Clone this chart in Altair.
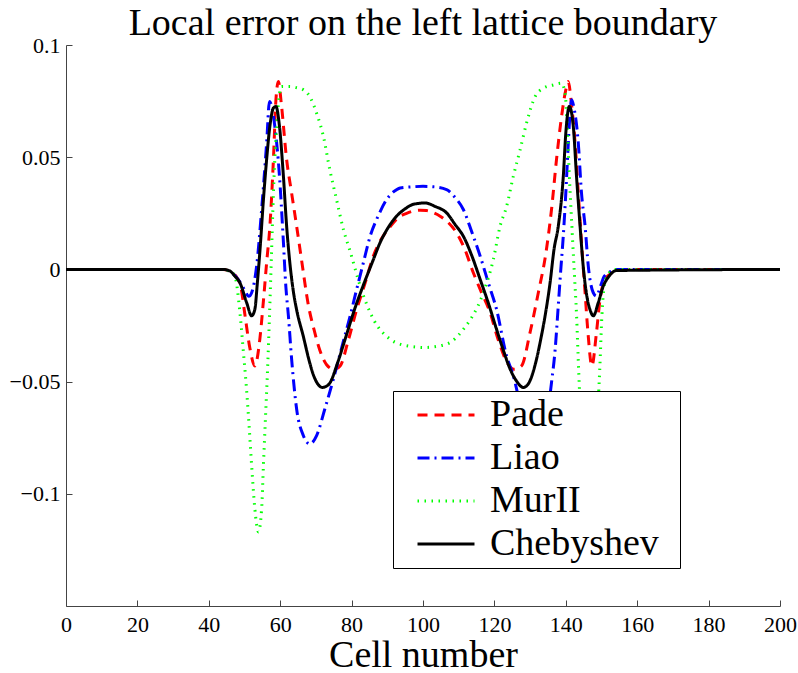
import altair as alt
import pandas as pd

# ---- data ----
pade_x = [0, 44, 46, 48, 49, 50.1, 51.5, 52.9, 54.3, 55.3, 56.2, 57.1, 58.1, 58.8, 59.5, 60.3, 61.8, 63.2, 64.6, 66,
          67.9, 69.5, 71.1, 73, 75, 76.8, 79, 81.4, 84, 86.1, 88.5, 90.8, 93, 95.4, 99.2, 101, 102.5, 104.8, 107, 109.4,
          111.7, 114.1, 116.3, 118.8, 121, 123.4, 125.5, 127.6, 130, 132.3, 134.4, 136, 137.4, 138.8, 140, 140.7, 141.5,
          142.6, 143.5, 144.4, 145.4, 146.2, 147.3, 148.6, 149.6, 150.8, 152.5, 154.5, 200]
pade_y = [0, 0, -0.001, -0.004, -0.008, -0.020, -0.035, -0.043, -0.031, -0.014, 0.003, 0.019, 0.049, 0.0756, 0.0837,
          0.074, 0.049, 0.034, 0.0193, 0.004, -0.016, -0.027, -0.036, -0.0425, -0.0445, -0.043, -0.032, -0.018, -0.005,
          0.006, 0.014, 0.019, 0.023, 0.025, 0.0264, 0.0262, 0.0255, 0.0237, 0.021, 0.0163, 0.009, -0.0015, -0.010,
          -0.0193, -0.031, -0.041, -0.0445, -0.043, -0.028, -0.0104, 0.007, 0.0267, 0.049, 0.068, 0.080, 0.0837, 0.075,
          0.0563, 0.034, 0.0119, -0.0104, -0.028, -0.043, -0.028, -0.0133, -0.005, -0.002, 0, 0]

liao_x = [0, 44, 46, 48, 50, 51.2, 52.0, 53.4, 54.8, 56.2, 57.0, 57.7, 58.5, 59.8, 60.8, 61.6, 62.3, 63.2, 64.6, 66.5,
          68.3, 70.2, 72.5, 74.9, 77.7, 79.6, 81.4, 83.3, 85.2, 87.5, 89.8, 91.7, 93.6, 97, 100, 103, 106.6, 109, 111.3,
          113.6, 116, 118.3, 120.6, 123.4, 125.3, 127.5, 129.8, 131.7, 133.5, 135, 136, 137, 137.9, 138.6, 139.3, 140,
          140.7, 141.2, 141.6, 142.3, 143.5, 144.4, 145.4, 146.3, 147.7, 148.6, 149.6, 150.8, 152.5, 154, 200]
liao_y = [0, 0, -0.001, -0.004, -0.009, -0.012, -0.0104, 0.0015, 0.0267, 0.0563, 0.0748, 0.072, 0.0637, 0.0415, 0.015,
          -0.008, -0.0207, -0.040, -0.0622, -0.0741, -0.0778, -0.0741, -0.0622, -0.0489, -0.032, -0.0207, -0.009, 0.003,
          0.0148, 0.024, 0.0311, 0.0345, 0.0363, 0.0368, 0.037, 0.0368, 0.0356, 0.032, 0.0267, 0.017, 0.006, -0.006,
          -0.0178, -0.0385, -0.0474, -0.062, -0.0741, -0.0778, -0.0741, -0.063, -0.0504, -0.036, -0.016, 0.000, 0.015,
          0.034, 0.0563, 0.070, 0.0756, 0.072, 0.0563, 0.034, 0.0193, 0.0015, -0.0104, -0.0119, -0.008, -0.003, -0.001,
          0, 0]

mur_x = [0, 44, 46, 47.3, 48.7, 49.7, 50.5, 51.1, 52.0, 52.9, 53.9, 54.8, 55.3, 55.9, 56.5, 57.0, 57.6, 58.1, 59.0, 60.4,
         62.7, 64.5, 66.5, 68.3, 70.2, 72.1, 73.9, 75.8, 77.7, 79.6, 82.4, 86.1, 90.8, 95.4, 100.5, 106.6, 111.3, 116.9,
         119.7, 121.6, 123.4, 125.3, 127.2, 129, 131.4, 133.7, 136.5, 138.8, 139.8, 140.4, 141, 141.7, 142.4, 143, 143.6,
         144.3, 145, 145.8, 146.7, 147.6, 148.3, 148.9, 149.5, 150.1, 150.9, 152.5, 154, 200]
mur_y = [0, 0, -0.001, -0.003, -0.019, -0.037, -0.052, -0.0652, -0.0874, -0.1067, -0.117, -0.1067, -0.0874, -0.0652,
         -0.043, -0.0207, 0.0089, 0.034, 0.0637, 0.0815, 0.0815, 0.081, 0.080, 0.077, 0.0696, 0.0593, 0.0444, 0.031,
         0.0178, 0.0080, -0.0074, -0.0222, -0.0311, -0.034, -0.0348, -0.0333, -0.0267, -0.0104, 0.0044, 0.0193, 0.028,
         0.0415, 0.0533, 0.0652, 0.077, 0.0807, 0.0822, 0.083, 0.0785, 0.0637, 0.0415, 0.0193, -0.002, -0.020, -0.045,
         -0.070, -0.090, -0.107, -0.117, -0.107, -0.088, -0.065, -0.045, -0.021, -0.006, -0.001, 0, 0]

cheb_x = [0, 44, 45.9, 47.3, 48.7, 50.6, 52.0, 52.9, 53.6, 54.4, 55.3, 56.2, 57.1, 58.1, 58.8, 59.8, 60.9, 61.8, 62.7,
          63.7, 64.6, 66.5, 68, 69.3, 70.5, 71.8, 73, 74, 76, 78.6, 81, 83.3, 86, 88, 90, 92.6, 95, 97.3, 100.5, 103.5,
          106.6, 109, 111.3, 113.7, 116, 118.3, 120.6, 122.5, 124.4, 126.3, 128.1, 129.5, 131.8, 133, 134.2, 135.6,
          136.7, 137.9, 139.3, 140, 141, 142.1, 143, 144, 144.9, 145.8, 146.8, 147.7, 149.1, 150.5, 151.9, 154.2, 200]
cheb_y = [0, 0, -0.0007, -0.003, -0.0059, -0.0148, -0.0207, -0.0178, -0.006, 0.010, 0.031, 0.049, 0.0637, 0.0719,
          0.0726, 0.0637, 0.0415, 0.0193, 0.003, -0.010, -0.018, -0.030, -0.040, -0.047, -0.051, -0.0526, -0.052,
          -0.0504, -0.042, -0.029, -0.017, -0.007, 0.004, 0.012, 0.018, 0.0237, 0.027, 0.029, 0.0296, 0.028, 0.0252,
          0.020, 0.0148, 0.006, -0.0044, -0.015, -0.0267, -0.036, -0.0444, -0.050, -0.0526, -0.051, -0.040, -0.031,
          -0.0207, -0.0059, 0.0089, 0.0193, 0.0415, 0.0607, 0.0726, 0.0637, 0.0415, 0.0193, 0.001, -0.011, -0.018,
          -0.0207, -0.0148, -0.0074, -0.0035, -0.0005, 0]

series_names = ["Pade", "Liao", "MurII", "Chebyshev"]
x_ticks = [0, 20, 40, 60, 80, 100, 120, 140, 160, 180, 200]
y_ticks = [-0.1, -0.05, 0, 0.05, 0.1]

# ---- styles ----
series_colors = ["#ff0000", "#0000ff", "#00ff00", "#000000"]
series_dashes = [[10, 7], [12, 5, 2, 5], [1.5, 5.5], [1, 0]]
series_widths = [3, 3, 1.8, 3]

frames = []
for name, xs, ys in zip(series_names, [pade_x, liao_x, mur_x, cheb_x], [pade_y, liao_y, mur_y, cheb_y]):
    assert len(xs) == len(ys), name
    frames.append(pd.DataFrame({"series": name, "cell": xs, "error": ys}))
df = pd.concat(frames, ignore_index=True)

FONT = "Liberation Serif"
W, H = 714, 561

x_scale = alt.Scale(domain=[0, 200], nice=False, zero=False)
y_scale = alt.Scale(domain=[-0.15, 0.1], nice=False, zero=False)
color_scale = alt.Scale(domain=series_names, range=series_colors)
dash_scale = alt.Scale(domain=series_names, range=series_dashes)
width_scale = alt.Scale(domain=series_names, range=series_widths)

# an invisible-width title on the right adds the box's right margin
legend = alt.Legend(
    title="\u00a0", titleOrient="right", titleFontSize=38, titleFont=FONT, titlePadding=16,
    orient="none", legendX=327, legendY=346,
    symbolType="M-2,0H2", symbolSize=812,
    labelFont=FONT, labelFontSize=38, labelColor="black", labelLimit=0,
    fillColor="white", strokeColor="black",
    padding=5, rowPadding=5, symbolOffset=29, labelOffset=25,
)

x_axis = alt.Axis(
    values=x_ticks, format="d", title="Cell number",
    titleFont=FONT, titleFontSize=38, titleFontWeight="normal", titleColor="black",
    titleY=30, titleBaseline="top",
    labelFont=FONT, labelFontSize=22, labelColor="black", labelPadding=8,
    labelFlush=False, labelOverlap=False,
    tickSize=0, domainColor="#444", domainWidth=1, grid=False,
)
y_axis = alt.Axis(
    values=y_ticks, format="~g", title=None,
    labelFont=FONT, labelFontSize=22, labelColor="black", labelPadding=6,
    labelFlush=False, labelOverlap=False,
    tickSize=0, domainColor="#444", domainWidth=1, grid=False,
)

line_layers = []
for name in series_names:
    line_layers.append(
        alt.Chart(df)
        .transform_filter(alt.datum.series == name)
        .mark_line(interpolate="monotone", strokeCap="butt", clip=True)
        .encode(
            x=alt.X("cell:Q", scale=x_scale, axis=x_axis),
            y=alt.Y("error:Q", scale=y_scale, axis=y_axis),
            color=alt.Color("series:N", scale=color_scale, legend=legend),
            strokeDash=alt.StrokeDash("series:N", scale=dash_scale, legend=legend),
            strokeWidth=alt.StrokeWidth("series:N", scale=width_scale, legend=legend),
        )
    )
lines = alt.layer(*line_layers)

# inward-pointing ticks (MATLAB style)
ticks_layer = alt.Chart(df).mark_point(opacity=0).encode(
    x=alt.X("cell:Q", scale=x_scale,
            axis=alt.Axis(orient="top", offset=-H, values=x_ticks, labels=False, domain=False,
                          tickSize=6, tickColor="#444", title=None, grid=False)),
    y=alt.Y("error:Q", scale=y_scale,
            axis=alt.Axis(orient="right", offset=-W, values=y_ticks, labels=False, domain=False,
                          tickSize=6, tickColor="#444", title=None, grid=False)),
)

chart = (
    alt.layer(lines, ticks_layer)
    .resolve_axis(x="independent", y="independent")
    .properties(
        width=W, height=H,
        title=alt.TitleParams("Local error on the left lattice boundary", font=FONT, fontSize=38,
                              fontWeight="normal", color="black", anchor="middle", frame="group",
                              offset=1, dy=10),
        padding={"left": 66, "top": 45, "right": 18, "bottom": 67},
        autosize=alt.AutoSizeParams(type="none"),
        background="white",
    )
    .configure_view(stroke=None)
)

chart.save("out.html", embed_options={"renderer": "svg", "actions": False})
